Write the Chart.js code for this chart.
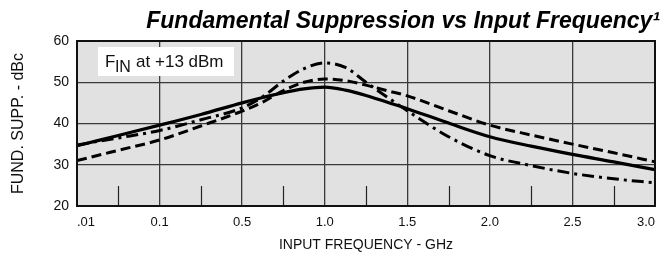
<!DOCTYPE html>
<html>
<head>
<meta charset="utf-8">
<script src="https://cdn.jsdelivr.net/npm/chart.js@4.4.0/dist/chart.umd.min.js"></script>
<style>
  html, body { margin: 0; padding: 0; background: #fff; }
  #wrap { width: 664px; height: 256px; }
</style>
</head>
<body>
<div id="wrap"><canvas id="chart"></canvas></div>
<script>
// x axis is not to scale: each label sits one step apart
const freqLabels = ['.01', '0.1', '0.5', '1.0', '1.5', '2.0', '2.5', '3.0'];
// sample positions along the axis, in label steps (0 = .01 GHz, 7 = 3.0 GHz)
const samplePos = [0, 0.5, 1, 1.5, 2, 2.25, 2.5, 2.75, 3, 3.25, 3.5, 3.75, 4, 4.5, 5, 5.5, 6, 6.5, 7];
const suppSolid = [34.6, 37.1, 39.6, 42.2, 45.0, 46.3, 47.5, 48.4, 48.8, 48.1, 46.8, 45.2, 43.6, 40.1, 36.8, 34.5, 32.5, 30.7, 28.8];
const suppDashed = [31.0, 33.5, 36.0, 39.4, 43.0, 45.2, 48.0, 50.0, 50.8, 50.4, 49.3, 48.0, 46.7, 43.1, 39.6, 37.2, 35.0, 32.9, 30.7];
const suppDashDot = [34.8, 36.5, 38.3, 40.9, 43.8, 46.5, 50.3, 53.3, 54.7, 53.6, 50.0, 46.5, 43.1, 36.8, 32.2, 29.8, 27.9, 26.6, 25.6];
const yTicks = [20, 30, 40, 50, 60];

const toPoints = vals => vals.map((v, i) => ({ x: samplePos[i], y: v }));

const plotDecor = {
    id: 'plotDecor',
    beforeDraw(chart) {
        const { ctx, chartArea: a } = chart;
        ctx.save();
        ctx.fillStyle = '#e1e1e1';
        ctx.fillRect(a.left, a.top, a.right - a.left, a.bottom - a.top);
        ctx.restore();
    },
    afterDatasetsDraw(chart) {
        const { ctx, chartArea: a } = chart;
        const xs = chart.scales.x;
        ctx.save();
        // minor ticks halfway between labels
        ctx.strokeStyle = '#222';
        ctx.lineWidth = 1.2;
        for (let i = 0; i < freqLabels.length - 1; i++) {
            const px = Math.round(xs.getPixelForValue(i + 0.5)) + 0.5;
            ctx.beginPath();
            ctx.moveTo(px, a.bottom);
            ctx.lineTo(px, a.bottom - 20);
            ctx.stroke();
        }
        // frame
        ctx.lineWidth = 2;
        ctx.strokeStyle = '#111';
        ctx.strokeRect(a.left, a.top, a.right - a.left, a.bottom - a.top);

        // condition note
        ctx.fillStyle = '#fff';
        ctx.fillRect(98, 47, 136, 29);
        ctx.fillStyle = '#111';
        ctx.textBaseline = 'alphabetic';
        ctx.font = '17px "Liberation Sans", Arial, sans-serif';
        ctx.fillText('F', 105, 67);
        let x = 105 + ctx.measureText('F').width;
        ctx.font = '16px "Liberation Sans", Arial, sans-serif';
        ctx.fillText('IN', x - 0.5, 72);
        x += ctx.measureText('IN').width;
        ctx.font = '17px "Liberation Sans", Arial, sans-serif';
        ctx.fillText(' at +13 dBm', x, 67);
        ctx.restore();
    }
};

const ctx = document.getElementById('chart').getContext('2d');
new Chart(ctx, {
    type: 'line',
    data: {
        datasets: [
            {
                data: toPoints(suppSolid),
                borderColor: '#000',
                borderWidth: 3.2,
                pointRadius: 0,
                cubicInterpolationMode: 'monotone',
                fill: false
            },
            {
                data: toPoints(suppDashed),
                borderColor: '#000',
                borderWidth: 3,
                borderDash: [10, 5],
                pointRadius: 0,
                cubicInterpolationMode: 'monotone',
                fill: false
            },
            {
                data: toPoints(suppDashDot),
                borderColor: '#000',
                borderWidth: 3,
                borderDash: [12, 5, 3, 5],
                pointRadius: 0,
                cubicInterpolationMode: 'monotone',
                fill: false
            }
        ]
    },
    options: {
        responsive: true,
        maintainAspectRatio: false,
        animation: false,
        events: [],
        layout: { padding: { left: 0, right: 4, top: 0, bottom: 0 } },
        plugins: {
            legend: { display: false },
            tooltip: { enabled: false },
            title: {
                display: true,
                text: 'Fundamental Suppression vs Input Frequency¹',
                align: 'end',
                color: '#000',
                font: { family: '"Liberation Sans", Arial, sans-serif', size: 23, weight: 'bold', style: 'italic' },
                padding: { top: 8, bottom: 5.4 }
            }
        },
        scales: {
            x: {
                type: 'linear',
                min: 0,
                max: freqLabels.length - 1,
                afterBuildTicks: s => { s.ticks = freqLabels.map((_, i) => ({ value: i })); },
                afterFit: s => { s.height = 50; },
                grid: { color: '#3a3a3a', lineWidth: 1.3, drawTicks: false },
                border: { display: false },
                ticks: {
                    color: '#111',
                    padding: 9,
                    align: 'inner',
                    maxRotation: 0,
                    font: { family: '"Liberation Sans", Arial, sans-serif', size: 13 },
                    callback: v => freqLabels[v]
                },
                title: {
                    display: true,
                    text: 'INPUT FREQUENCY - GHz',
                    color: '#111',
                    font: { family: '"Liberation Sans", Arial, sans-serif', size: 14 },
                    padding: { top: 0, bottom: 2 }
                }
            },
            y: {
                min: 20,
                max: 60,
                afterBuildTicks: s => { s.ticks = yTicks.map(v => ({ value: v })); },
                afterFit: s => { s.width = 77; },
                grid: { color: '#3a3a3a', lineWidth: 1.3, drawTicks: false },
                border: { display: false },
                ticks: {
                    color: '#111',
                    padding: 8,
                    font: { family: '"Liberation Sans", Arial, sans-serif', size: 14 }
                },
                title: {
                    display: true,
                    text: 'FUND. SUPP. - dBc',
                    color: '#111',
                    font: { family: '"Liberation Sans", Arial, sans-serif', size: 16 },
                    padding: { top: 9, bottom: 0 }
                }
            }
        }
    },
    plugins: [plotDecor]
});
</script>
</body>
</html>
